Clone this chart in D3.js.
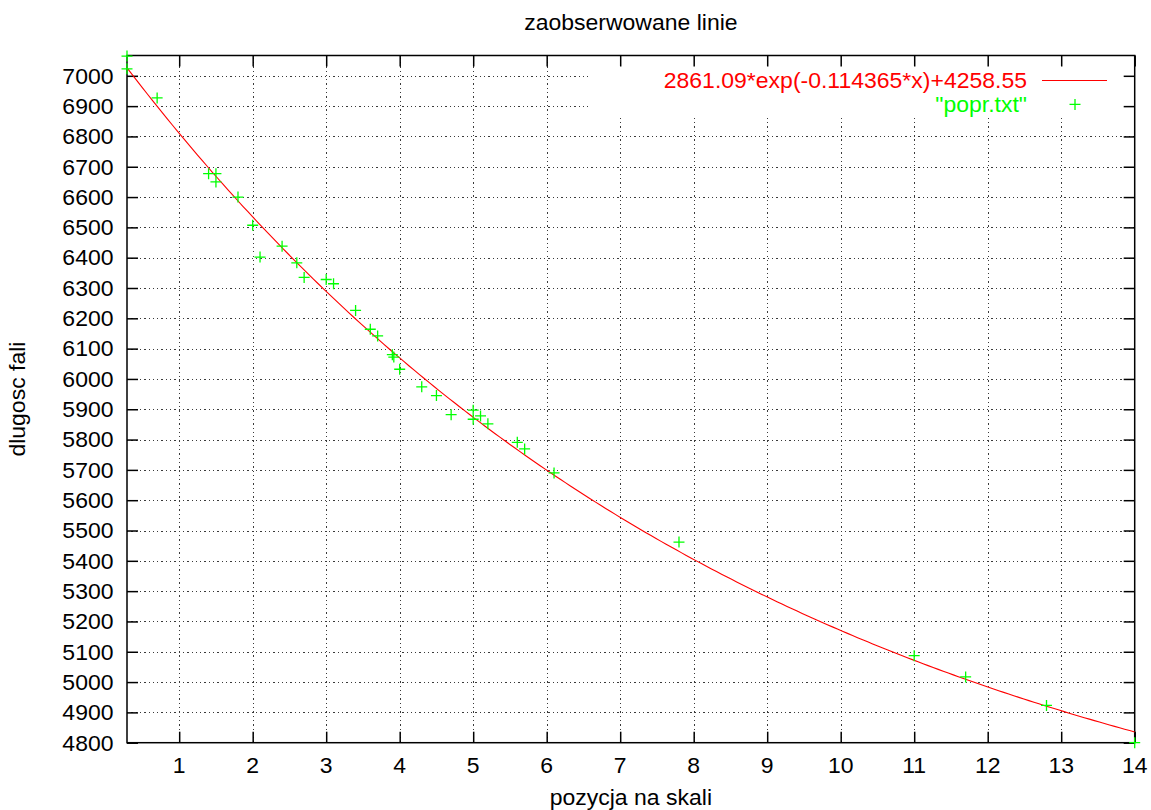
<!DOCTYPE html>
<html>
<head>
<meta charset="utf-8">
<script src="https://cdn.jsdelivr.net/npm/d3@7"></script>
<style>
  html, body { margin: 0; padding: 0; background: #fff; }
  svg { display: block; }
  text { font-family: "Liberation Sans", Arial, sans-serif; }
</style>
</head>
<body>
<svg id="chart" width="1151" height="810"></svg>
<script>
// ---- data ----
const pointX = [0.29, 0.29, 0.7, 1.4, 1.5, 1.5, 1.8, 2.0, 2.1, 2.4, 2.6, 2.7, 3.0, 3.1, 3.4, 3.6, 3.7, 3.9, 3.92, 4.0, 4.3, 4.5, 4.7, 5.0, 5.0, 5.1, 5.2, 5.6, 5.7, 6.1, 7.8, 11.0, 11.7, 12.8, 14.0];
const pointY = [7065, 7023, 6927, 6677, 6677, 6650, 6600, 6507, 6402, 6438, 6383, 6335, 6328, 6314, 6226, 6164, 6142, 6080, 6072, 6032, 5974, 5945, 5882, 5897, 5867, 5878, 5852, 5791, 5769, 5690, 5462, 5087, 5017, 4923, 4800];
// fitted curve parameters as printed in the legend: a*exp(b*x)+c
const fitParams = [2861.09, -0.114365, 4258.55];
const xTicks = [1, 2, 3, 4, 5, 6, 7, 8, 9, 10, 11, 12, 13, 14];
const yTicks = [4800, 4900, 5000, 5100, 5200, 5300, 5400, 5500, 5600, 5700, 5800, 5900, 6000, 6100, 6200, 6300, 6400, 6500, 6600, 6700, 6800, 6900, 7000];
const xDomain = [0.29, 14];
const yDomain = [4800, 7067];
const titleText = "zaobserwowane linie";
const xLabel = "pozycja na skali";
const yLabel = "dlugosc fali";
const legendCurve = "2861.09*exp(-0.114365*x)+4258.55";
const legendPoints = "\"popr.txt\"";

// ---- layout ----
const L = 127, R = 1134.7, T = 55.5, B = 742.7;
const FS = 22, SX = 1.045;
const svg = d3.select("#chart");
const x = d3.scaleLinear().domain(xDomain).range([L, R]);
const y = d3.scaleLinear().domain(yDomain).range([B, T]);

function label(g, tx, ty, str, anchor, fill, rot) {
  return g.append("text")
    .attr("transform", `translate(${tx},${ty})${rot ? " rotate(" + rot + ")" : ""} scale(${SX},1)`)
    .attr("text-anchor", anchor).attr("font-size", FS).attr("fill", fill || "#000").text(str);
}

// grid
const grid = svg.append("g").attr("stroke", "#3a3a3a").attr("stroke-width", 1)
  .attr("stroke-dasharray", "1.3,3").attr("shape-rendering", "crispEdges");
grid.selectAll("line.gx").data(xTicks.filter(v => v < 14)).join("line")
  .attr("x1", d => Math.round(x(d)) + 0.5).attr("x2", d => Math.round(x(d)) + 0.5)
  .attr("y1", B).attr("y2", T);
grid.selectAll("line.gy").data(yTicks.filter(v => v > 4800)).join("line")
  .attr("y1", d => Math.round(y(d)) + 0.5).attr("y2", d => Math.round(y(d)) + 0.5)
  .attr("x1", L).attr("x2", R);

// key area (opaque)
svg.append("rect").attr("x", 590).attr("y", T + 1).attr("width", R - 590).attr("height", 116.5 - T)
  .attr("fill", "#fff");

// axes via d3 axis generators (inward ticks, mirrored)
const tickLen = 11;
function styleAxis(g) {
  g.select(".domain").remove();
  g.selectAll(".tick line").attr("stroke", "#000").attr("stroke-width", 1.5);
  g.selectAll(".tick text").remove();
}
svg.append("g").attr("transform", `translate(0,${B})`)
  .call(d3.axisBottom(x).tickValues(xTicks).tickSize(-tickLen)).call(styleAxis);
svg.append("g").attr("transform", `translate(0,${T})`)
  .call(d3.axisTop(x).tickValues(xTicks).tickSize(-tickLen)).call(styleAxis);
svg.append("g").attr("transform", `translate(${L},0)`)
  .call(d3.axisLeft(y).tickValues(yTicks).tickSize(-tickLen)).call(styleAxis);
svg.append("g").attr("transform", `translate(${R},0)`)
  .call(d3.axisRight(y).tickValues(yTicks).tickSize(-tickLen)).call(styleAxis);

// tick labels
const xl = svg.append("g");
xTicks.forEach(d => label(xl, x(d), 773, String(d), "middle"));
const yl = svg.append("g");
yTicks.forEach(d => label(yl, 113.5, y(d) + 7.8, String(d), "end"));

// border
svg.append("rect").attr("x", L).attr("y", T).attr("width", R - L).attr("height", B - T)
  .attr("fill", "none").attr("stroke", "#000").attr("stroke-width", 1.5);

// titles
label(svg, (L + R) / 2, 29.5, titleText, "middle");
label(svg, (L + R) / 2, 804.5, xLabel, "middle");
label(svg, 25, (T + B) / 2, yLabel, "middle", "#000", -90);

// fitted curve (gnuplot samples the function)
const [fa, fb, fc] = fitParams;
const samples = d3.range(0, 201).map(i => xDomain[0] + (xDomain[1] - xDomain[0]) * i / 200);
const line = d3.line().x(d => x(d)).y(d => y(fa * Math.exp(fb * d) + fc));
svg.append("path").datum(samples).attr("d", line).attr("fill", "none")
  .attr("stroke", "#ff0000").attr("stroke-width", 1.1);

// points
const pts = pointX.map((v, i) => [v, pointY[i]]);
const s = 5.5;
const plus = (cx, cy) => `M${cx - s},${cy}H${cx + s}M${cx},${cy - s}V${cy + s}`;
svg.append("path").attr("d", pts.map(p => plus(x(p[0]), y(p[1]))).join(""))
  .attr("fill", "none").attr("stroke", "#00ff00").attr("stroke-width", 1.3);

// legend
label(svg, 1027, 88.4, legendCurve, "end", "#ff0000");
svg.append("line").attr("x1", 1042).attr("x2", 1107).attr("y1", 80.5).attr("y2", 80.5)
  .attr("stroke", "#ff0000").attr("stroke-width", 1.1);
label(svg, 1027, 112.3, legendPoints, "end", "#00ff00");
svg.append("path").attr("d", plus(1075, 104.4)).attr("fill", "none")
  .attr("stroke", "#00ff00").attr("stroke-width", 1.3);
</script>
</body>
</html>
